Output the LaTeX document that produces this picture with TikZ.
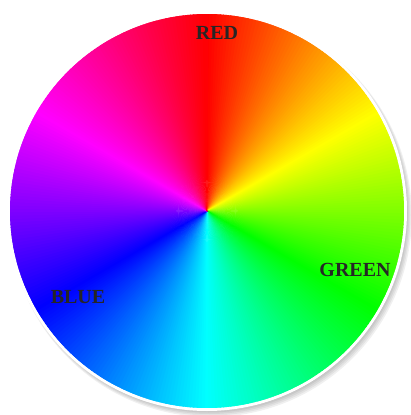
\documentclass[tikz,border=0pt]{standalone}
\usepackage{fontspec}
\setmainfont{Liberation Serif}
\tikzset{
  lbl/.style  ={font=\fontsize{20}{22}\selectfont\bfseries,text=black!85,inner sep=0pt},
  rim/.style  ={fill=white},
  shade/.style={fill=black,opacity=.06},
}

\begin{document}
\begin{tikzpicture}[x=1pt,y=-1pt]
  \useasboundingbox (0,0) rectangle (411,415);

  % --- drop shadow and white rim ---
  \foreach \s in {2,3,4,5,6}
    \fill[shade] (207+\s*0.6,211+\s*0.8) circle[radius=197+\s*0.7];
  \fill[rim] (207,211) circle[radius=200];

  % --- hue wheel: red on top, hue runs clockwise ---
  \foreach \h in {0,...,359}{
    \definecolor{wc}{Hsb}{\h,1,1}
    \fill[wc] (207,211) -- ++(-90+\h-0.4:197) arc[start angle=-90+\h-0.4,end angle=-90+\h+1.4,radius=197] -- cycle;
  }

  % labels
  \node[lbl] (red)   at (217,33)  {RED};
  \node[lbl] (green) at (355,270) {GREEN};
  \node[lbl] (blue)  at (78,297)  {BLUE};
\end{tikzpicture}
\end{document}
